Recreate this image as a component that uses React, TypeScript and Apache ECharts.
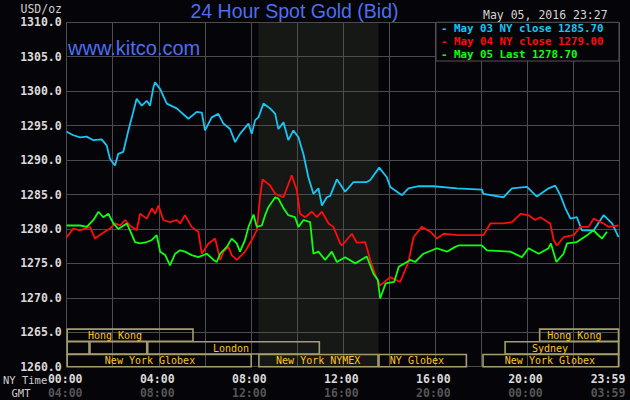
import React, { useEffect, useRef } from 'react';
import * as echarts from 'echarts';

// [hour (NY time), USD/oz]
const may03Close: [number, number][] = [
  [0.0, 1294.1], [0.29, 1293.6], [0.58, 1293.3], [0.87, 1293.4], [1.14, 1292.9], [1.52, 1293.0], [1.74, 1292.1],
  [1.88, 1290.2], [2.03, 1289.5], [2.1, 1289.2], [2.24, 1290.9], [2.46, 1291.2], [2.68, 1294.3], [2.83, 1296.2],
  [3.04, 1298.9], [3.26, 1297.9], [3.48, 1298.6], [3.62, 1297.9], [3.77, 1300.6], [3.84, 1301.3], [4.06, 1300.3],
  [4.35, 1298.2], [4.78, 1297.5], [5.29, 1296.0], [5.65, 1297.0], [5.87, 1296.9], [6.01, 1294.3], [6.3, 1296.2],
  [6.59, 1296.7], [6.81, 1295.3], [7.1, 1294.5], [7.32, 1292.6], [7.53, 1293.8], [7.9, 1295.3], [8.04, 1293.8],
  [8.19, 1295.8], [8.33, 1296.2], [8.55, 1298.2], [8.84, 1297.5], [9.06, 1296.7], [9.2, 1294.5], [9.42, 1295.5],
  [9.63, 1292.9], [9.85, 1294.3], [10.07, 1293.3], [10.29, 1290.8], [10.5, 1287.5], [10.72, 1285.1], [10.94, 1285.9],
  [11.09, 1283.4], [11.3, 1284.6], [11.45, 1284.8], [11.74, 1287.2], [12.1, 1285.4], [12.46, 1286.8], [13.04, 1286.8],
  [13.19, 1287.1], [13.58, 1288.9], [13.91, 1287.5], [14.06, 1286.1], [14.57, 1284.9], [14.85, 1285.9], [15.29, 1286.2],
  [15.94, 1286.2], [16.96, 1285.9], [18.04, 1285.7], [18.11, 1285.1], [18.98, 1284.6], [19.35, 1285.9], [20.0, 1286.1],
  [20.43, 1284.7], [20.94, 1285.9], [21.23, 1286.3], [21.45, 1284.9], [21.67, 1283.0], [21.89, 1281.5], [22.17, 1281.7],
  [22.39, 1279.8], [22.9, 1279.8], [23.33, 1282.0], [23.7, 1280.8], [23.98, 1278.8],
];

const may04Close: [number, number][] = [
  [0.0, 1278.8], [0.29, 1280.05], [0.58, 1279.8], [1.01, 1280.3], [1.23, 1278.6], [1.52, 1279.3], [1.88, 1280.05],
  [2.1, 1280.8], [2.32, 1280.5], [2.54, 1281.3], [2.75, 1280.5], [3.04, 1279.8], [3.19, 1282.2], [3.48, 1281.5],
  [3.7, 1283.0], [3.84, 1282.2], [3.99, 1283.4], [4.2, 1281.3], [4.49, 1281.0], [4.78, 1281.3], [4.93, 1280.8],
  [5.14, 1282.0], [5.43, 1280.3], [5.72, 1279.6], [5.87, 1276.4], [6.16, 1277.9], [6.45, 1278.6], [6.67, 1275.5],
  [6.81, 1276.7], [7.03, 1277.4], [7.17, 1276.2], [7.39, 1275.5], [7.75, 1276.7], [8.04, 1278.4], [8.26, 1279.8],
  [8.4, 1284.6], [8.51, 1287.2], [8.84, 1286.3], [9.06, 1285.1], [9.42, 1284.6], [9.78, 1287.8], [10.0, 1285.6],
  [10.14, 1282.2], [10.36, 1281.7], [10.65, 1282.5], [10.87, 1281.7], [11.09, 1282.5], [11.38, 1280.8], [11.59, 1280.3],
  [11.88, 1277.9], [11.96, 1277.6], [12.39, 1279.3], [12.61, 1278.0], [12.97, 1278.1], [13.19, 1275.5], [13.41, 1273.3],
  [13.62, 1271.8], [14.06, 1273.0], [14.49, 1272.3], [14.85, 1275.2], [15.07, 1278.8], [15.43, 1280.3], [15.8, 1279.6],
  [16.09, 1278.6], [16.38, 1279.3], [16.96, 1279.1], [18.11, 1279.1], [18.41, 1280.8], [18.98, 1280.8], [19.35, 1281.0],
  [19.72, 1282.2], [20.07, 1282.0], [20.36, 1281.3], [20.58, 1281.7], [21.01, 1280.8], [21.16, 1278.4], [21.3, 1277.6],
  [21.59, 1278.8], [22.03, 1279.1], [22.32, 1280.3], [22.68, 1280.3], [22.9, 1281.5], [23.19, 1281.0], [23.33, 1280.8],
  [23.55, 1280.3], [23.98, 1280.5],
];

const may05Last: [number, number][] = [
  [0.0, 1280.5], [0.58, 1280.5], [0.87, 1280.3], [1.16, 1281.3], [1.38, 1282.5], [1.59, 1281.7], [1.81, 1282.2],
  [2.03, 1280.8], [2.24, 1280.0], [2.61, 1280.8], [2.75, 1279.8], [2.97, 1278.1], [3.19, 1277.9], [3.48, 1278.1],
  [3.7, 1278.4], [3.91, 1279.1], [4.06, 1276.7], [4.28, 1276.2], [4.49, 1274.7], [4.71, 1276.4], [4.93, 1276.9],
  [5.14, 1276.7], [5.43, 1276.2], [5.72, 1275.9], [6.09, 1276.4], [6.38, 1275.5], [6.52, 1275.2], [6.67, 1276.4],
  [6.96, 1277.4], [7.17, 1278.6], [7.39, 1277.9], [7.53, 1276.7], [7.75, 1278.4], [7.9, 1280.3], [8.12, 1282.1],
  [8.26, 1280.3], [8.48, 1280.5], [8.62, 1282.0], [8.77, 1283.2], [9.06, 1284.6], [9.2, 1284.4], [9.42, 1283.0],
  [9.63, 1282.0], [9.92, 1281.7], [10.07, 1280.3], [10.29, 1281.3], [10.58, 1281.0], [10.72, 1276.4], [10.94, 1276.7],
  [11.23, 1275.5], [11.52, 1276.7], [11.74, 1275.2], [12.1, 1275.9], [12.54, 1275.0], [13.04, 1276.0], [13.33, 1273.5],
  [13.52, 1272.6], [13.62, 1269.9], [13.86, 1272.1], [14.23, 1272.3], [14.43, 1274.5], [14.93, 1275.5], [15.14, 1275.2],
  [15.5, 1276.4], [16.09, 1277.2], [16.52, 1276.7], [16.88, 1277.4], [17.03, 1277.6], [18.04, 1277.6], [18.26, 1276.9],
  [19.28, 1276.7], [19.78, 1275.9], [20.07, 1277.2], [20.51, 1276.4], [20.94, 1277.2], [21.04, 1277.9], [21.28, 1275.2],
  [21.59, 1276.4], [21.74, 1277.9], [22.17, 1278.1], [22.61, 1279.1], [22.9, 1279.8], [23.04, 1279.3], [23.26, 1278.6],
  [23.48, 1279.6],
];

const seriesNames = ['May 03 NY close', 'May 04 NY close', 'May 05 Last'];
const seriesLastValues = ['1285.70', '1279.00', '1278.70'];
const seriesColors = ['#16c6f5', '#ff0c0c', '#10ff10'];

const nyTimeLabels = ['00:00', '04:00', '08:00', '12:00', '16:00', '20:00', '23:59'];
const gmtLabels = ['04:00', '08:00', '12:00', '16:00', '20:00', '00:00', '03:59'];

// Trading sessions: start hour, end hour, row (0 = top), label centre hour
const sessionLabels = ['Hong Kong', '', '', 'London', 'Sydney', 'Hong Kong', 'New York Globex', 'New York NYMEX', 'NY Globex', 'New York Globex'];
const sessionStart = [0, 0, 0.99, 3.5, 19.03, 20.53, 0, 8.33, 13.55, 18.07];
const sessionEnd = [5.51, 0.99, 3.5, 11.0, 24, 24, 8.04, 13.55, 17.39, 24];
const sessionRow = [0, 1, 1, 1, 1, 0, 2, 2, 2, 2];
const sessionLabelAt = [2.1, 0, 0, 7.14, 21.0, 22.06, 3.62, 10.93, 15.22, 21.0];

// NYMEX pit hours shading
const shadeRange = [[8.33, 13.55]];

const MONO = '"DejaVu Sans Mono", monospace';
const SANS = '"Liberation Sans", Arial, sans-serif';

export default function App() {
  const ref = useRef<HTMLDivElement>(null);

  useEffect(() => {
    if (!ref.current) return;
    const chart = echarts.init(ref.current, undefined, { renderer: 'svg' });

    const sessionData = sessionStart.map((s, i) => [s, sessionEnd[i], sessionRow[i], sessionLabelAt[i]]);

    const option: any = {
      animation: false,
      backgroundColor: '#050408',
      grid: { left: 66.7, right: 11, top: 22.3, bottom: 33.3, containLabel: false, outerBoundsMode: 'none' },
      xAxis: {
        type: 'value',
        min: 0,
        max: 24,
        interval: 2,
        axisLine: { show: false },
        axisTick: { show: false },
        splitLine: { show: true, lineStyle: { color: '#4c4c4c', width: 1 } },
        axisLabel: {
          margin: 5,
          hideOverlap: false,
          formatter: (v: number) => {
            const i = Math.round(v / 4);
            if (Math.abs(v - i * 4) > 1e-6) return '';
            const last = i === 6;
            return `{${last ? 'tl' : 't'}|${nyTimeLabels[i]}}\n{${last ? 'gl' : 'g'}|${gmtLabels[i]}}`;
          },
          rich: {
            t: { color: '#dadada', fontWeight: 'bold', fontSize: 11.5, fontFamily: MONO, lineHeight: 14.5, padding: [0, 3, 0, 0] },
            g: { color: '#555555', fontWeight: 'bold', fontSize: 11.5, fontFamily: MONO, lineHeight: 14.5, padding: [0, 3, 0, 0] },
            tl: { color: '#dadada', fontWeight: 'bold', fontSize: 11.5, fontFamily: MONO, lineHeight: 14.5, padding: [0, 22, 0, 0] },
            gl: { color: '#555555', fontWeight: 'bold', fontSize: 11.5, fontFamily: MONO, lineHeight: 14.5, padding: [0, 22, 0, 0] },
          },
        },
      },
      yAxis: {
        type: 'value',
        min: 1260,
        max: 1310,
        interval: 5,
        axisLine: { show: false },
        axisTick: { show: false },
        splitLine: { show: true, lineStyle: { color: '#4c4c4c', width: 1 } },
        axisLabel: {
          margin: 5,
          color: '#dadada',
          fontWeight: 'bold',
          fontSize: 11.5,
          fontFamily: MONO,
          formatter: (v: number) => v.toFixed(1),
        },
      },
      series: [
        {
          type: 'custom',
          z: -1,
          silent: true,
          clip: false,
          data: shadeRange,
          renderItem: (params: any, api: any) => {
            const x0 = api.coord([api.value(0), 1260])[0];
            const x1 = api.coord([api.value(1), 1260])[0];
            const cs = params.coordSys;
            return {
              type: 'rect',
              shape: { x: x0, y: cs.y, width: x1 - x0, height: cs.height },
              style: { fill: '#151815' },
            };
          },
        },
        ...[may03Close, may04Close, may05Last].map((d, i) => ({
          type: 'line',
          name: seriesNames[i],
          data: d,
          showSymbol: false,
          symbol: 'none',
          lineStyle: { color: seriesColors[i], width: 1.8 },
          itemStyle: { color: seriesColors[i] },
          z: 3 + i,
        })),
        {
          type: 'custom',
          z: 6,
          silent: true,
          clip: false,
          data: sessionData,
          renderItem: (params: any, api: any) => {
            const i = params.dataIndex;
            const x0 = api.coord([api.value(0), 1260])[0];
            const x1 = api.coord([api.value(1), 1260])[0];
            const lx = api.coord([api.value(3), 1260])[0];
            const cs = params.coordSys;
            const bottom = cs.y + cs.height;
            const rowH = 12.7;
            const row = api.value(2);
            const yTop = bottom - (3 - row) * rowH;
            const children: any[] = [
              {
                type: 'rect',
                shape: { x: x0 + 0.5, y: yTop + 0.5, width: x1 - x0 - 1, height: rowH - 0.5 },
                style: { fill: 'none', stroke: '#a59d6c', lineWidth: 1.6 },
              },
            ];
            if (sessionLabels[i]) {
              children.push({
                type: 'text',
                style: {
                  text: sessionLabels[i],
                  x: lx,
                  y: yTop + rowH / 2 + 0.5,
                  align: 'center',
                  verticalAlign: 'middle',
                  fill: '#ffc61a',
                  font: `10px ${MONO}`,
                },
              });
            }
            return { type: 'group', children };
          },
        },
      ],
      graphic: [
        {
          type: 'text',
          z: 100,
          style: { text: '24 Hour Spot Gold (Bid)', x: 294.5, y: 10.5, align: 'center', verticalAlign: 'middle', fill: '#4d6ef0', font: `19.5px ${SANS}` },
        },
        {
          type: 'text',
          z: 100,
          style: { text: 'www.kitco.com', x: 68, y: 48, align: 'left', verticalAlign: 'middle', fill: '#4d6ef0', font: `20px ${SANS}` },
        },
        {
          type: 'text',
          z: 100,
          style: { text: 'USD/oz', x: 20.5, y: 8.5, align: 'left', verticalAlign: 'middle', fill: '#cfcfcf', font: `11.5px ${MONO}` },
        },
        {
          type: 'text',
          z: 100,
          style: { text: 'May 05, 2016 23:27', x: 483, y: 14.5, align: 'left', verticalAlign: 'middle', fill: '#d4d4d4', font: `11.5px ${MONO}` },
        },
        {
          type: 'text',
          z: 100,
          style: { text: 'NY Time', x: 3, y: 380, align: 'left', verticalAlign: 'middle', fill: '#cfcfcf', font: `10.5px ${MONO}` },
        },
        {
          type: 'text',
          z: 100,
          style: { text: 'GMT', x: 11.5, y: 393, align: 'left', verticalAlign: 'middle', fill: '#cfcfcf', font: `10.5px ${MONO}` },
        },
        {
          type: 'rect',
          z: 100,
          shape: { x: 436, y: 22.3, width: 183, height: 38.7 },
          style: { fill: '#050408', stroke: '#555555', lineWidth: 1 },
        },
        ...seriesNames.map((n, i) => ({
          type: 'text',
          z: 101,
          style: {
            text: `- ${n} ${seriesLastValues[i]}`,
            x: 441,
            y: 28.8 + i * 12.8,
            align: 'left',
            verticalAlign: 'middle',
            lineHeight: 12,
            fill: seriesColors[i],
            font: `bold 10.8px ${MONO}`,
          },
        })),
      ],
    };

    chart.setOption(option);
    return () => chart.dispose();
  }, []);

  return (
    <div
      ref={ref}
      style={{ position: 'fixed', left: 0, top: 0, width: 630, height: 400, background: '#050408' }}
    />
  );
}
